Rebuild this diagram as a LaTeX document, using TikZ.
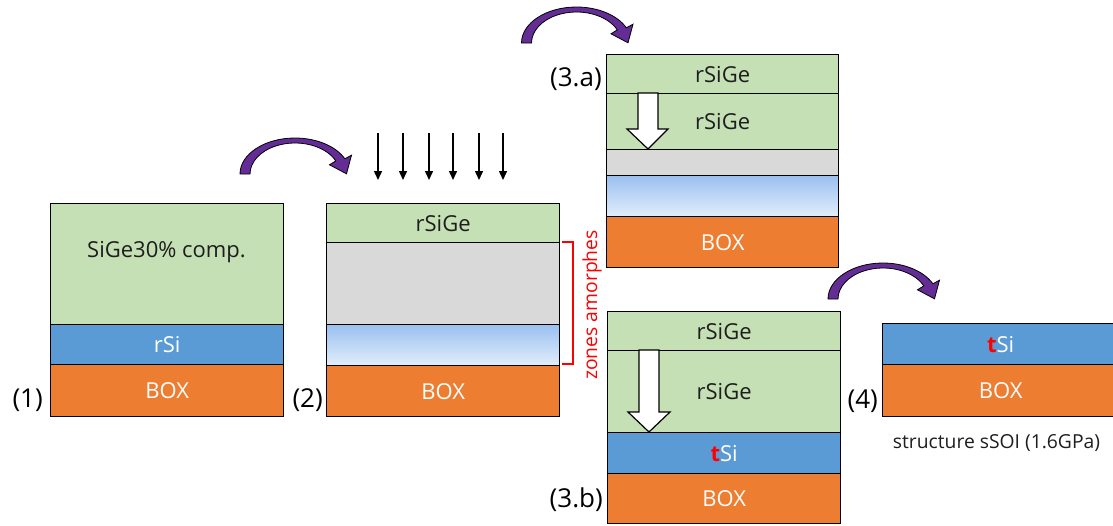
\documentclass[tikz,border=0pt]{standalone}
\usepackage{fontspec}
\setmainfont{Open Sans}
\usetikzlibrary{arrows.meta}
\definecolor{lgreen}{HTML}{C5E0B4}
\definecolor{lblue}{HTML}{5B9BD5}
\definecolor{lorange}{HTML}{ED7D31}
\definecolor{lgray}{HTML}{D9D9D9}
\definecolor{gtop}{HTML}{9AC0F0}
\definecolor{gbot}{HTML}{E2EEFB}
\definecolor{arrpurple}{HTML}{642D96}
\definecolor{dtext}{HTML}{1E1E1E}
\tikzset{
  layer/.style={draw=black, line width=1.3pt, anchor=north west, inner sep=0pt,
    font=\fontsize{22}{26}\selectfont},
  greenlay/.style={layer, fill=lgreen, text=dtext},
  bluelay/.style={layer, fill=lblue, text=white},
  orangelay/.style={layer, fill=lorange, text=white},
  graylay/.style={layer, fill=lgray},
  gradlay/.style={layer, top color=gtop, bottom color=gbot},
  steplabel/.style={anchor=east, inner sep=0pt, font=\fontsize{26}{30}\selectfont, text=black},
  smalltext/.style={inner sep=0pt, font=\fontsize{19.3}{23}\selectfont},
  blockarrow/.style={fill=white, draw=black, line width=1.2pt, line join=miter},
  implant/.style={line width=1.4pt, -{Triangle[length=9pt,width=8pt]}},
  curvarrow/.style={fill=arrpurple, draw=black, line width=0.8pt}
}
\begin{document}
\begin{tikzpicture}[x=1pt, y=-1pt]
\useasboundingbox (0,0) rectangle (1113,525);

% ---- stack (1)
\node[greenlay, minimum width=233pt, minimum height=121pt] (s1a) at (50,203) {};
\node[text=dtext, font=\fontsize{22}{26}\selectfont, inner sep=0pt] (s1at) at (166.5,252) {SiGe30\% comp.};
\node[bluelay, minimum width=233pt, minimum height=40pt] (s1b) at (50,324) {rSi};
\node[orangelay, minimum width=233pt, minimum height=52pt] (s1c) at (50,364) {BOX};
\node[steplabel] (l1) at (43,400) {(1)};

% ---- stack (2)
\node[greenlay, minimum width=233pt, minimum height=39pt] (s2a) at (326,203) {rSiGe};
\node[graylay, minimum width=233pt, minimum height=82pt] (s2b) at (326,242) {};
\node[gradlay, minimum width=233pt, minimum height=41pt] (s2c) at (326,324) {};
\node[orangelay, minimum width=233pt, minimum height=51pt] (s2d) at (326,365) {BOX};
\node[steplabel] (l2) at (323,400) {(2)};

% bracket
\coordinate (b1) at (562,242);
\coordinate (b2) at (573,242);
\coordinate (b3) at (573,364);
\coordinate (b4) at (562,364);
\draw[red, line width=2pt] (b1) -- (b2) -- (b3) -- (b4);
\node[smalltext, text=red, rotate=90] (za) at (592,305) {zones amorphes};

% implantation arrows
\foreach \i/\xx in {1/378,2/403,3/429,4/453,5/479,6/503}{
  \coordinate (ia\i) at (\xx,133);
  \coordinate (ib\i) at (\xx,180);
  \draw[implant] (ia\i) -- (ib\i);
}

% ---- stack (3.a)
\node[greenlay, minimum width=232pt, minimum height=39pt] (s3a) at (606,54) {rSiGe};
\node[greenlay, minimum width=232pt, minimum height=56pt] (s3b) at (606,93) {rSiGe};
\node[graylay, minimum width=232pt, minimum height=26pt] (s3c) at (606,149) {};
\node[gradlay, minimum width=232pt, minimum height=41pt] (s3d) at (606,175) {};
\node[orangelay, minimum width=232pt, minimum height=51pt] (s3e) at (606,216) {BOX};
\node[steplabel] (l3a) at (602,79) {(3.a)};
\draw[blockarrow] (638,93) -- (658,93) -- (658,129) -- (668,129) -- (648,149) -- (627,129) -- (638,129) -- cycle;

% ---- stack (3.b)
\node[greenlay, minimum width=233pt, minimum height=39pt] (s4a) at (607,311) {rSiGe};
\node[greenlay, minimum width=233pt, minimum height=82pt] (s4b) at (607,350) {rSiGe};
\node[bluelay, minimum width=233pt, minimum height=41pt] (s4c) at (607,432) {{\color{red}\bfseries t}Si};
\node[orangelay, minimum width=233pt, minimum height=50pt] (s4d) at (607,473) {BOX};
\node[steplabel] (l3b) at (603,500) {(3.b)};
\draw[blockarrow] (639,350) -- (659,350) -- (659,412) -- (670,412) -- (649,432) -- (628,412) -- (639,412) -- cycle;

% ---- stack (4)
\node[bluelay, minimum width=236pt, minimum height=41pt] (s5a) at (882,323) {{\color{red}\bfseries t}Si};
\node[orangelay, minimum width=236pt, minimum height=52pt] (s5b) at (882,364) {BOX};
\node[steplabel] (l4) at (878,401) {(4)};
\node[smalltext, text=dtext] (cap) at (996.5,443) {structure sSOI (1.6GPa)};

% ---- curved arrows
\foreach \ax/\ay in {245/174, 526.5/43, 833/299}{
  \begin{scope}[shift={(\ax,\ay)}]
    \path[curvarrow]
      (-5,0) arc[start angle=180, end angle=335, x radius=55, y radius=36]
      -- (106.5,-18.8) -- (101.5,-0.2) -- (84.5,-9.2) -- (90.8,-13.1)
      arc[start angle=335, end angle=180, x radius=45, y radius=31] -- cycle;
  \end{scope}
}
\end{tikzpicture}
\end{document}
